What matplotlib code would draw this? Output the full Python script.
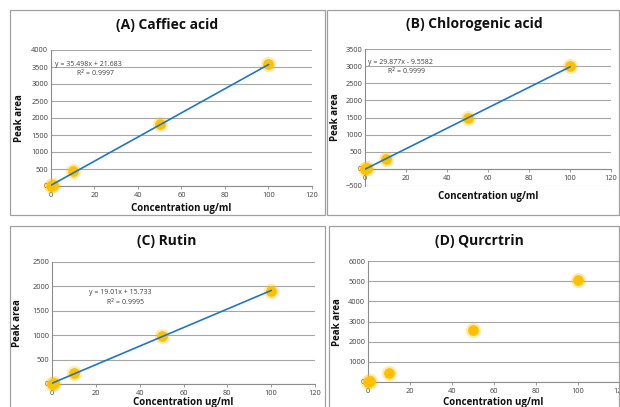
import matplotlib.pyplot as plt
from matplotlib.patches import Rectangle

conc = [0, 1, 10, 50, 100]
caffeic = [0, 40, 430, 1820, 3580]
chlorogenic = [0, 20, 290, 1500, 3000]
rutin = [0, 20, 230, 980, 1910]
quercitrin = [0, 30, 460, 2580, 5060]

titles = ['(A) Caffiec acid', '(B) Chlorogenic acid', '(C) Rutin', '(D) Qurcrtrin']
fits = [(35.498, 21.683), (29.877, -9.5582), (19.01, 15.733), None]
eq_text = ['y = 35.498x + 21.683', 'y = 29.877x - 9.5582', 'y = 19.01x + 15.733', None]
r2_text = ['R$^2$ = 0.9997', 'R$^2$ = 0.9999', 'R$^2$ = 0.9995', None]

W, H = 620, 407
plt.rcParams['font.family'] = ['Open Sans', 'DejaVu Sans']

fig = plt.figure(figsize=(W / 100, H / 100), dpi=100)


def px_axes(l, r, t, b):
    return fig.add_axes([l / W, (H - b) / H, (r - l) / W, (b - t) / H])


def fig_text(x, y, s, **kw):
    fig.text(x / W, (H - y) / H, s, ha='center', va='center', **kw)


# panel borders (px)
for l, t, r, b in [(10, 10, 325, 215), (327, 10, 619, 215),
                   (10, 226, 325, 410), (329, 226, 619, 410)]:
    fig.patches.append(Rectangle((l / W, (H - b) / H), (r - l) / W, (b - t) / H,
                                 transform=fig.transFigure, fill=False,
                                 edgecolor='#a0a0a0', lw=0.9))

# axes in pixel coords, ylim, yticks step
specs = [
    dict(box=(51, 312, 50, 186), ylim=(0, 4000), step=500, y=caffeic,
         title=(167, 25), xl=(181, 208), yl=(20, 118),
         eq=(0.015, 0.897), r2=(0.17, 0.83)),
    dict(box=(365, 611, 49, 186), ylim=(-500, 3500), step=500, y=chlorogenic,
         title=(474, 24), xl=(488, 197), yl=(335, 117),
         eq=(0.012, 0.905), r2=(0.17, 0.84)),
    dict(box=(52, 315, 262, 384), ylim=(0, 2500), step=500, y=rutin,
         title=(167, 241), xl=(183, 403), yl=(18, 323),
         eq=(0.14, 0.746), r2=(0.278, 0.672)),
    dict(box=(368, 620, 261, 382), ylim=(0, 6000), step=1000, y=quercitrin,
         title=(479, 241), xl=(493, 403), yl=(338, 322),
         eq=None, r2=None),
]

for i, sp in enumerate(specs):
    ax = px_axes(*sp['box'])
    ax.set_xlim(0, 120)
    ax.set_ylim(*sp['ylim'])
    ax.set_xticks(range(0, 121, 20))
    ax.set_yticks(range(sp['ylim'][0], sp['ylim'][1] + 1, sp['step']))
    ax.yaxis.grid(True, color='#a6a6a6', lw=0.8)
    ax.set_axisbelow(True)
    for s in ['top', 'right']:
        ax.spines[s].set_visible(False)
    ax.spines['left'].set_color('#8c8c8c')
    ax.spines['bottom'].set_color('#8c8c8c')
    ax.spines['left'].set_linewidth(0.8)
    ax.spines['bottom'].set_linewidth(0.8)
    if sp['ylim'][0] < 0:
        ax.spines['bottom'].set_position(('data', 0))
    ax.tick_params(axis='both', labelsize=5.3, colors='#8c8c8c', labelcolor='#404040',
                   length=2.5, width=0.6, pad=2)
    ax.tick_params(axis='y', length=0)

    ax.scatter(conc, sp['y'], s=120, color='#FFC000', alpha=0.3, lw=0, zorder=3,
               clip_on=False)
    ax.scatter(conc, sp['y'], s=60, color='#FFC000', lw=0, zorder=4, clip_on=False)
    if fits[i] is not None:
        m, c = fits[i]
        xs = [conc[0], conc[-1]]
        ax.plot(xs, [m * x + c for x in xs], color='#1f77c4', lw=1.2, zorder=5)
        ax.text(*sp['eq'], eq_text[i], transform=ax.transAxes, fontsize=5,
                color='#404040', ha='left', va='center')
        ax.text(*sp['r2'], r2_text[i], transform=ax.transAxes, fontsize=5,
                color='#404040', ha='center', va='center')

    fig_text(*sp['title'], titles[i], fontsize=10, fontweight='bold', color='#111111')
    fig_text(*sp['xl'], 'Concentration ug/ml', fontsize=7, fontweight='bold', color='#111111')
    fig_text(*sp['yl'], 'Peak area', fontsize=7, fontweight='bold', color='#111111',
             rotation=90)

fig.savefig('out.png', dpi=100)
